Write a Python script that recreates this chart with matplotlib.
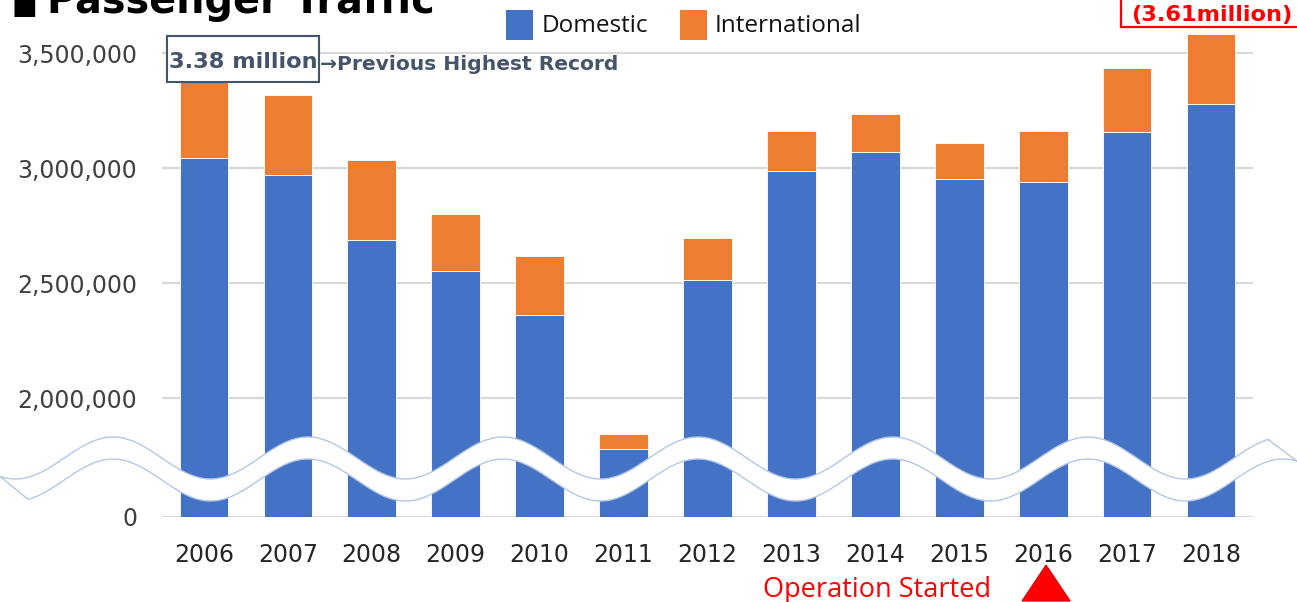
import numpy as np
import matplotlib
matplotlib.use("Agg")
import matplotlib.pyplot as plt
from matplotlib.patches import Polygon, Rectangle

# ---------------- data ----------------
years = ["2006", "2007", "2008", "2009", "2010", "2011", "2012",
         "2013", "2014", "2015", "2016", "2017", "2018"]
domestic = [3046000, 2972000, 2687000, 2552000, 2362000, 1778000, 2514000,
            2988000, 3072000, 2955000, 2939000, 3157000, 3278000]
total = [3380000, 3320000, 3035000, 2800000, 2619000, 1845000, 2697000,
         3162000, 3235000, 3111000, 3162000, 3437000, 3583000]
international = [t - d for t, d in zip(total, domestic)]
ytick_values = [2000000, 2500000, 3000000, 3500000]
ytick_labels = ["2,000,000", "2,500,000", "3,000,000", "3,500,000"]
series_names = ["Domestic", "International"]

W, H = 1297, 602
BLUE = "#4472C4"
ORANGE = "#ED7D31"
GRID = "#D9D9D9"
SLATE = "#44546A"
RED = "#FF0000"

fig = plt.figure(figsize=(W / 100, H / 100), dpi=100)
fig.patch.set_facecolor("white")


def fx(x):
    return x / W


def fy(y):
    return 1 - y / H


# axes placed in pixels: left 162, right 1253, bottom 517, top 20
ax = fig.add_axes([fx(162), fy(517), (1253 - 162) / W, (517 - 20) / H])
ax.set_facecolor("none")

ylow = 1483900   # axis bottom (shown as "0" on the broken axis)
yhigh = 3644800

x = np.arange(len(years))
bw = 0.58
ax.bar(x, domestic, bw, color=BLUE, edgecolor="white", linewidth=0.6,
       zorder=2, label=series_names[0])
ax.bar(x, international, bw, bottom=domestic, color=ORANGE, edgecolor="white",
       linewidth=0.6, zorder=2, label=series_names[1])

ax.set_xlim(-0.5, len(years) - 0.5)
ax.set_ylim(ylow, yhigh)
ax.set_yticks([ylow] + ytick_values)
ax.set_yticklabels(["0"] + ytick_labels)
ax.set_xticks(x)
ax.set_xticklabels(years)
for yv in [ylow] + ytick_values:
    ax.axhline(yv, color=GRID, lw=1.6, zorder=1)
for s in ax.spines.values():
    s.set_visible(False)
ax.tick_params(axis="y", length=0, pad=18, labelsize=17, labelcolor="#404040")
ax.tick_params(axis="x", length=0, pad=19, labelsize=17, labelcolor="#262626")
for lab in ax.get_yticklabels() + ax.get_xticklabels():
    lab.set_fontfamily("DejaVu Sans")

# ---------------- wave break band ----------------
def wave_c(xx):
    return 469 - 21 * np.cos(2 * np.pi * (xx - 113) / 195.0)

half = 11
xu = np.linspace(0, 1268, 400)
xl = np.linspace(1297, 28, 400)
pts = [(fx(a), fy(wave_c(a) - half)) for a in xu]
pts += [(fx(a), fy(wave_c(a) + half)) for a in xl]
band = Polygon(pts, closed=True, transform=fig.transFigure, facecolor="white",
               edgecolor="#B4C7E7", linewidth=1.0, zorder=5)
fig.patches.append(band)

# ---------------- title ----------------
fig.text(fx(12), fy(14), "■", fontsize=19.5, family="DejaVu Sans",
         color="black", va="baseline", ha="left")
fig.text(fx(47), fy(13), "Passenger Traffic", fontsize=28.6, fontweight="bold",
         family="DejaVu Sans", color="black", va="baseline", ha="left")

# ---------------- legend (manual) ----------------
for (x0, col, name, tx) in [(506, BLUE, series_names[0], 542),
                            (680, ORANGE, series_names[1], 715)]:
    fig.patches.append(Rectangle((fx(x0), fy(39.5)), 27 / W, 29.5 / H,
                                 transform=fig.transFigure, facecolor=col,
                                 edgecolor="none", zorder=6))
    fig.text(fx(tx), fy(25.5), name, fontsize=17.5, family="Open Sans",
             color="#111111", va="center", ha="left")

# ---------------- annotation box: previous record ----------------
fig.patches.append(Rectangle((fx(167), fy(82)), (319 - 167) / W, (82 - 36) / H,
                             transform=fig.transFigure, facecolor="white",
                             edgecolor=SLATE, linewidth=1.5, zorder=6))
fig.text(fx(243), fy(61.5), "3.38 million", fontsize=16.2, fontweight="bold",
         family="DejaVu Sans", color=SLATE, ha="center", va="center", zorder=7)
fig.text(fx(320), fy(64), "→Previous Highest Record", fontsize=14.6,
         fontweight="bold", family="DejaVu Sans", color=SLATE, ha="left",
         va="center", zorder=7)

# ---------------- red box: new record ----------------
fig.patches.append(Rectangle((fx(1121), fy(27)), (1300 - 1121) / W, 40 / H,
                             transform=fig.transFigure, facecolor="white",
                             edgecolor=RED, linewidth=1.6, zorder=6))
fig.text(fx(1212), fy(15), "(3.61million)", fontsize=16.2, fontweight="bold",
         family="DejaVu Sans", color=RED, ha="center", va="center", zorder=7)

# ---------------- operation started ----------------
fig.text(fx(877), fy(597), "Operation Started", fontsize=19.5,
         family="Open Sans", color=RED, ha="center", va="baseline")
shadow = Polygon([(fx(1049), fy(567)), (fx(1026), fy(604)), (fx(1074), fy(604))],
                 closed=True, transform=fig.transFigure, facecolor="#999999",
                 edgecolor="none", alpha=0.35, zorder=5)
fig.patches.append(shadow)
tri = Polygon([(fx(1046), fy(565)), (fx(1022), fy(601)), (fx(1070), fy(601))],
              closed=True, transform=fig.transFigure, facecolor=RED,
              edgecolor="#E00000", linewidth=0.8, zorder=6)
fig.patches.append(tri)

fig.savefig("out.png", dpi=100, facecolor="white")
